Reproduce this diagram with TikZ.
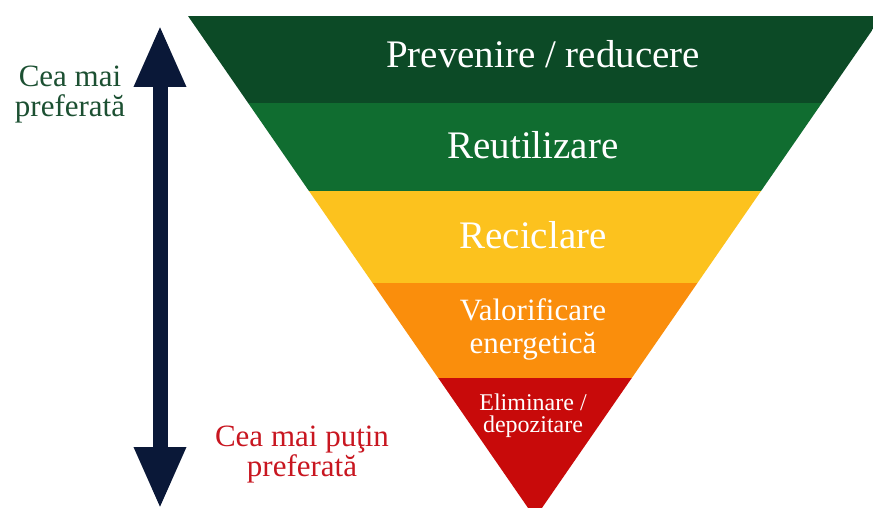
\documentclass[tikz,border=0pt]{standalone}
\usepackage{fontspec}
\setmainfont{Liberation Serif}
\usetikzlibrary{arrows.meta, positioning}
\definecolor{forest}{RGB}{12,74,38}
\definecolor{leaf}{RGB}{16,109,48}
\definecolor{sun}{RGB}{252,194,30}
\definecolor{tangerine}{RGB}{250,142,12}
\definecolor{crimson}{RGB}{200,10,10}
\definecolor{navy}{RGB}{10,24,56}
\definecolor{pinegreen}{RGB}{28,80,50}
\definecolor{warnred}{RGB}{200,22,32}

\begin{document}
\begin{tikzpicture}[
    x=1pt, y=-1pt,
    band/.style={font=\fontsize{39}{39}\selectfont, text=white, inner sep=0pt, anchor=base},
    twoline/.style={align=center, text=white, inner sep=0pt},
    side/.style={align=center, inner sep=0pt, font=\fontsize{31}{30}\selectfont},
    bigarrow/.style={{Triangle[width=48pt,length=62pt]}-{Triangle[width=48pt,length=62pt]}, line width=15pt, navy}
]
\useasboundingbox (0,0) rectangle (873,508);

% Pyramid bands
\begin{scope}
\clip (188,16) -- (882,16) -- (535,518) -- cycle;
\fill[forest] (0,16) rectangle (873,103.5);
\fill[leaf] (0,103.5) rectangle (873,191);
\fill[sun] (0,191) rectangle (873,282.5);
\fill[tangerine] (0,282.5) rectangle (873,377.5);
\fill[crimson] (0,377.5) rectangle (873,520);
\end{scope}

% Band labels
\node[band] (prevent) at (543,68) {Prevenire / reducere};
\node[band] (reuse) at (533,158) {Reutilizare};
\node[band] (recycle) at (533,248) {Reciclare};
\node[twoline, font=\fontsize{31}{33}\selectfont] (energy) at (533,329.5) {Valorificare\\energetică};
\node[twoline, font=\fontsize{24}{22}\selectfont] (disposal) at (533,416) {Eliminare /\\depozitare};

% Preference scale
\coordinate (scaletop) at (160,25);
\coordinate (scalebot) at (160,509);
\draw[bigarrow] (scalebot) -- (scaletop);
\node[side, text=pinegreen] (mostpref) at (70,95) {Cea mai\\preferată};
\node[side, text=warnred] (leastpref) at (302,455) {Cea mai puţin\\preferată};

\end{tikzpicture}
\end{document}
